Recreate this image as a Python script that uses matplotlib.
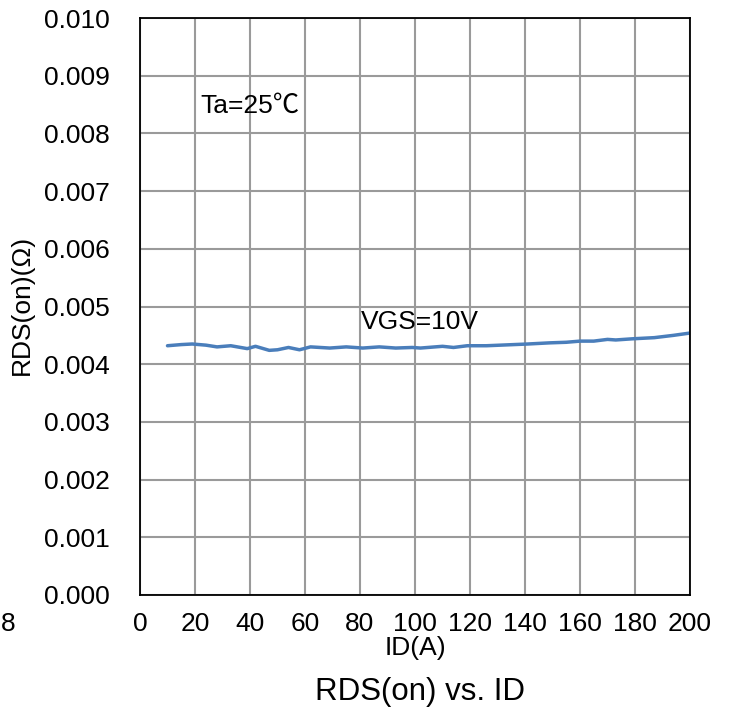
import matplotlib
matplotlib.use("Agg")
import matplotlib.pyplot as plt
import numpy as np

plt.rcParams['font.family'] = ['Liberation Sans', 'DejaVu Sans']

id_a = [10, 15, 19, 24, 28, 33, 39, 42, 47, 50, 54, 58, 62, 69, 75, 81, 87, 93, 99,
        102, 110, 114, 119, 126, 131, 141, 149, 155, 160, 165, 170, 173, 179, 187, 194, 200]
rds = [0.00432, 0.00434, 0.00435, 0.00433, 0.00430, 0.00432, 0.00427, 0.00431, 0.00424, 0.00425,
       0.00429, 0.00425, 0.00430, 0.00428, 0.00430, 0.00428, 0.00430, 0.00428, 0.00429,
       0.00428, 0.00431, 0.00429, 0.00432, 0.00432, 0.00433, 0.00435, 0.00437, 0.00438, 0.00440,
       0.00440, 0.00443, 0.00442, 0.00444, 0.00446, 0.00450, 0.00454]

xticks = list(range(0, 201, 20))
yticks = [i / 1000 for i in range(0, 11)]

FS = 19

fig = plt.figure(figsize=(7.29, 7.15), dpi=100)
ax = fig.add_axes([140/729, 1-595/715, 550/729, 577/715])

ax.plot(id_a, rds, color='#4A7EBB', lw=2.5, solid_capstyle='round')
ax.set_xlim(0, 200)
ax.set_ylim(0, 0.010)
ax.set_xticks(xticks)
ax.set_yticks(yticks)
ax.set_yticklabels([f"{v:.3f}" for v in yticks])
ax.grid(True, color='#9A9A9A', lw=1.5)
ax.set_axisbelow(True)
ax.tick_params(axis='both', length=0, labelsize=FS)
ax.tick_params(axis='y', pad=22)
ax.tick_params(axis='x', pad=12)
for s in ax.spines.values():
    s.set_color('black')
    s.set_linewidth(1.3)

ax.text(21.8, 0.00848, 'Ta=25℃', fontsize=FS, va='center', ha='left',
        family=['Liberation Sans', 'Noto Sans CJK SC', 'DejaVu Sans'])
ax.text(80.5, 0.00473, 'VGS=10V', fontsize=FS, va='center', ha='left')

fig.text(22/729, 1-305/715, 'RDS(on)(Ω)', rotation=90, fontsize=FS, ha='center', va='center')
fig.text(415/729, 1-648/715, 'ID(A)', fontsize=FS, ha='center', va='center')
fig.text(420/729, 1-692/715, 'RDS(on) vs. ID', fontsize=22.5, ha='center', va='center')
fig.text(0.5/729, 1-624/715, '8', fontsize=FS, ha='left', va='center')

fig.savefig('out.png', dpi=100)
